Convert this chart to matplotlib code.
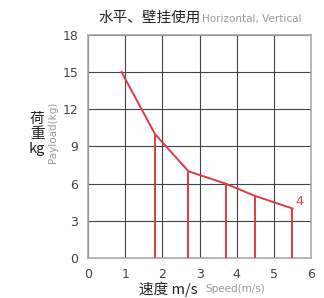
import matplotlib
matplotlib.use("Agg")
import matplotlib.pyplot as plt

plt.rcParams['font.family'] = ['Noto Sans CJK SC', 'DejaVu Sans']

# curve of payload vs speed
speed = [0.9, 1.8, 2.7, 3.7, 4.5, 5.5]
payload = [15, 10, 7, 6, 5, 4]
x_ticks = [0, 1, 2, 3, 4, 5, 6]
y_ticks = [0, 3, 6, 9, 12, 15, 18]

red = '#e03a44'

fig = plt.figure(figsize=(3.24, 2.98), dpi=100)
ax = fig.add_axes([0.272, 0.134, 0.688, 0.749])

ax.plot(speed, payload, color=red, lw=1.4, zorder=3)
# drop lines from each point after the first
ax.vlines(speed[1:], 0, payload[1:], color=red, lw=1.4, zorder=3)
ax.text(speed[-1] + 0.08, payload[-1], str(payload[-1]), color=red,
        fontsize=9, va='bottom', ha='left', family='DejaVu Sans')

ax.set_xlim(0, 6)
ax.set_ylim(0, 18)
ax.set_xticks(x_ticks)
ax.set_yticks(y_ticks)
ax.grid(True, color='#444444', lw=0.8)
ax.tick_params(length=0, labelsize=9, colors='#444444', pad=7)
for lbl in ax.get_xticklabels() + ax.get_yticklabels():
    lbl.set_family('DejaVu Sans')
for s in ax.spines.values():
    s.set_color('#aaaaaa')
    s.set_linewidth(1.2)

# title
fig.text(0.62, 0.94, '水平、壁挂使用', fontsize=10.5, ha='right', va='center', color='#222222')
fig.text(0.625, 0.935, 'Horizontal, Vertical', fontsize=7.5, ha='left', va='center',
         color='#999999', family='DejaVu Sans')

# x label
fig.text(0.61, 0.03, '速度 m/s', fontsize=10.5, ha='right', va='center', color='#222222')
fig.text(0.635, 0.03, 'Speed(m/s)', fontsize=7.5, ha='left', va='center',
         color='#999999', family='DejaVu Sans')

# y label
fig.text(0.115, 0.55, '荷\n重\nkg', fontsize=10.5, ha='center', va='center',
         color='#222222', linespacing=1.1)
fig.text(0.165, 0.555, 'Payload(kg)', fontsize=7.5, ha='center', va='center',
         color='#999999', rotation=90, family='DejaVu Sans')

fig.savefig('out.png', dpi=100)
